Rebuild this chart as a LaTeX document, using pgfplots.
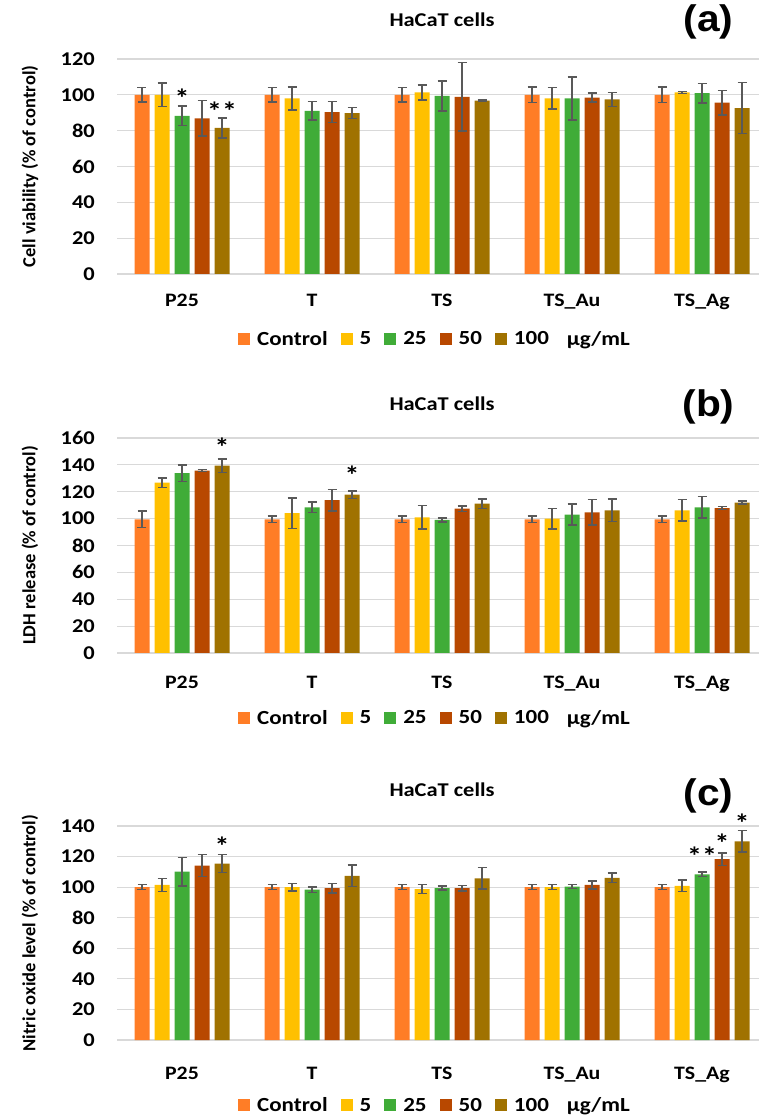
\documentclass[border=0pt]{standalone}
\usepackage{fontspec}
\setmainfont{Carlito}
\newfontfamily\cfs{Carlito}[FakeStretch=1.15]
\newfontfamily\arialf{Liberation Sans}[FakeStretch=1.1]
\usepackage{pgfplots}
\pgfplotsset{compat=1.18}
\usepackage{pgfplotstable}

\definecolor{cC}{RGB}{255,125,38}
\definecolor{c5}{RGB}{255,192,0}
\definecolor{c25}{RGB}{64,172,56}
\definecolor{c50}{RGB}{184,72,0}
\definecolor{c100}{RGB}{160,114,0}
\definecolor{errc}{RGB}{89,89,89}
\definecolor{gridc}{RGB}{217,217,217}

% Panel (a): Cell viability
\pgfplotstableread{
x c ce s5 s5e s25 s25e s50 s50e s100 s100e
0 100 4.0 100.0 6.5 88.3 5.4 86.9 10.0 81.5 5.5
1 100 4.0 98.0 6.5 91.1 5.2 90.4 5.9 89.8 3.0
2 100 4.0 101.3 4.3 99.4 8.3 98.9 19.0 96.7 0.5
3 100 4.4 98.0 6.0 98.0 12.0 98.5 2.6 97.4 4.0
4 100 4.4 101.3 0.6 100.9 5.4 95.6 6.9 92.6 14.3
}\dataA
% Panel (b): LDH release
\pgfplotstableread{
x c ce s5 s5e s25 s25e s50 s50e s100 s100e
0 99.5 6.0 126.7 3.5 133.8 6.2 135.8 0.7 139.5 5.0
1 99.5 2.5 104.0 11.4 108.4 4.0 113.8 8.0 117.8 2.7
2 99.5 2.5 101.0 8.6 99.0 1.5 107.4 2.0 111.1 3.5
3 99.5 2.5 100.0 7.7 103.0 7.9 104.7 9.4 106.2 8.4
4 99.5 2.5 106.2 7.9 108.4 8.1 107.9 1.2 111.9 1.2
}\dataB
% Panel (c): Nitric oxide level
\pgfplotstableread{
x c ce s5 s5e s25 s25e s50 s50e s100 s100e
0 100 1.7 101.5 4.3 110.2 9.3 114.1 7.2 115.4 5.9
1 100 1.7 100.0 2.4 98.3 1.7 99.3 3.0 107.4 7.0
2 100 1.7 98.7 3.0 99.3 1.3 99.3 1.7 105.7 7.0
3 100 1.7 100.0 1.7 100.4 1.3 101.5 2.6 106.1 3.0
4 100 1.7 100.9 3.7 108.3 1.5 118.3 4.1 130.0 7.0
}\dataC

\tikzset{
  ttl/.style={font=\cfs\fontsize{19.5}{22}\selectfont\bfseries},
  lbl/.style={font=\arialf\fontsize{37}{38}\selectfont\bfseries},
  star/.style={font=\cfs\fontsize{26}{26}\selectfont\bfseries, inner sep=0pt},
}

\pgfplotsset{
  panel/.style={
    scale only axis, width=650pt,
    ybar=5pt, bar width=15pt,
    xmin=-0.5, xmax=4.5, ymin=0,
    ytick distance=20,
    xtick={0,1,2,3,4}, xticklabels={P25,T,TS,TS\_Au,TS\_Ag},
    axis line style={draw=none},
    major tick length=0pt,
    ymajorgrids, major grid style={gridc, line width=1.2pt},
    /pgf/number format/assume math mode=true,
    yticklabel style={font=\cfs\fontsize{19.5}{22}\selectfont\bfseries, anchor=east, inner sep=0pt, xshift=-22pt},
    xticklabel style={font=\cfs\fontsize{19}{22}\selectfont\bfseries, anchor=base, inner sep=0pt},
    ylabel style={font=\fontsize{18.5}{22}\selectfont\bfseries, at={(axis description cs:-0.134,0.5)}, anchor=center, rotate=0},
    clip=false,
    legend columns=-1,
    legend style={draw=none, fill=none, inner sep=0pt, anchor=west,
      font=\cfs\fontsize{20}{22}\selectfont\bfseries,
      /tikz/every even column/.append style={column sep=11pt},
      /tikz/every odd column/.append style={column sep=5pt}},
  },
  sq/.style={legend image code/.code={\fill[##1] (0pt,-6pt) rectangle (12pt,6pt);}},
  eb/.style={error bars/.cd, y dir=both, y explicit,
    error bar style={draw=errc, line width=1.5pt},
    error mark options={rotate=90, draw=errc, mark size=4.5pt, line width=1.5pt}},
}

\begin{document}
\begin{tikzpicture}
\path[use as bounding box] (0pt,0pt) rectangle (759pt,1118pt);

% ---------------- (a)
\begin{axis}[panel, at={(117pt,844pt)}, anchor=south west, height=215pt,
  ymax=120, ylabel={Cell viability (\% of control)},
  xticklabel style={yshift=-33pt},
  legend style={at={(0.186,-0.302)}}]
\addplot[fill=cC, draw=none, sq, eb] table[x=x, y=c, y error=ce] {\dataA};
\addplot[fill=c5, draw=none, sq, eb] table[x=x, y=s5, y error=s5e] {\dataA};
\addplot[fill=c25, draw=none, sq, eb] table[x=x, y=s25, y error=s25e] {\dataA};
\addplot[fill=c50, draw=none, sq, eb] table[x=x, y=s50, y error=s50e] {\dataA};
\addplot[fill=c100, draw=none, sq, eb] table[x=x, y=s100, y error=s100e] {\dataA};
\addlegendentry{Control}
\addlegendentry{5}
\addlegendentry{25}
\addlegendentry{50}
\addlegendentry{100}
\addlegendimage{empty legend}
\addlegendentry{\hspace{-2pt}µg/mL}
\node[ttl] at (axis description cs:0.5,1) [yshift=39pt] {HaCaT cells};
\node[lbl] at (axis description cs:0.91,1) [yshift=37pt] {(a)};
\node[star] at (axis cs:0,98) {*};
\node[star] at (axis cs:0,91) [xshift=40pt] {**};
\end{axis}

% ---------------- (b)
\begin{axis}[panel, at={(117pt,465pt)}, anchor=south west, height=215pt,
  ymax=160, ylabel={LDH release (\% of control)},
  xticklabel style={yshift=-36pt},
  legend style={at={(0.186,-0.303)}}]
\addplot[fill=cC, draw=none, sq, eb] table[x=x, y=c, y error=ce] {\dataB};
\addplot[fill=c5, draw=none, sq, eb] table[x=x, y=s5, y error=s5e] {\dataB};
\addplot[fill=c25, draw=none, sq, eb] table[x=x, y=s25, y error=s25e] {\dataB};
\addplot[fill=c50, draw=none, sq, eb] table[x=x, y=s50, y error=s50e] {\dataB};
\addplot[fill=c100, draw=none, sq, eb] table[x=x, y=s100, y error=s100e] {\dataB};
\addlegendentry{Control}
\addlegendentry{5}
\addlegendentry{25}
\addlegendentry{50}
\addlegendentry{100}
\addlegendimage{empty legend}
\addlegendentry{\hspace{-2pt}µg/mL}
\node[ttl] at (axis description cs:0.5,1) [yshift=34pt] {HaCaT cells};
\node[lbl] at (axis description cs:0.91,1) [yshift=31pt] {(b)};
\node[star] at (axis cs:0,153) [xshift=40pt] {*};
\node[star] at (axis cs:1,132) [xshift=40pt] {*};
\end{axis}

% ---------------- (c)
\begin{axis}[panel, at={(117pt,78pt)}, anchor=south west, height=214pt,
  ymax=140, ylabel={Nitric oxide level (\% of control)},
  xticklabel style={yshift=-39pt},
  legend style={at={(0.186,-0.305)}}]
\addplot[fill=cC, draw=none, sq, eb] table[x=x, y=c, y error=ce] {\dataC};
\addplot[fill=c5, draw=none, sq, eb] table[x=x, y=s5, y error=s5e] {\dataC};
\addplot[fill=c25, draw=none, sq, eb] table[x=x, y=s25, y error=s25e] {\dataC};
\addplot[fill=c50, draw=none, sq, eb] table[x=x, y=s50, y error=s50e] {\dataC};
\addplot[fill=c100, draw=none, sq, eb] table[x=x, y=s100, y error=s100e] {\dataC};
\addlegendentry{Control}
\addlegendentry{5}
\addlegendentry{25}
\addlegendentry{50}
\addlegendentry{100}
\addlegendimage{empty legend}
\addlegendentry{\hspace{-2pt}µg/mL}
\node[ttl] at (axis description cs:0.5,1) [yshift=36pt] {HaCaT cells};
\node[lbl] at (axis description cs:0.91,1) [yshift=30pt] {(c)};
\node[star] at (axis cs:0,126.5) [xshift=40pt] {*};
\node[star] at (axis cs:4,120) {**};
\node[star] at (axis cs:4,129) [xshift=20pt] {*};
\node[star] at (axis cs:4,142) [xshift=40pt] {*};
\end{axis}
\end{tikzpicture}
\end{document}
